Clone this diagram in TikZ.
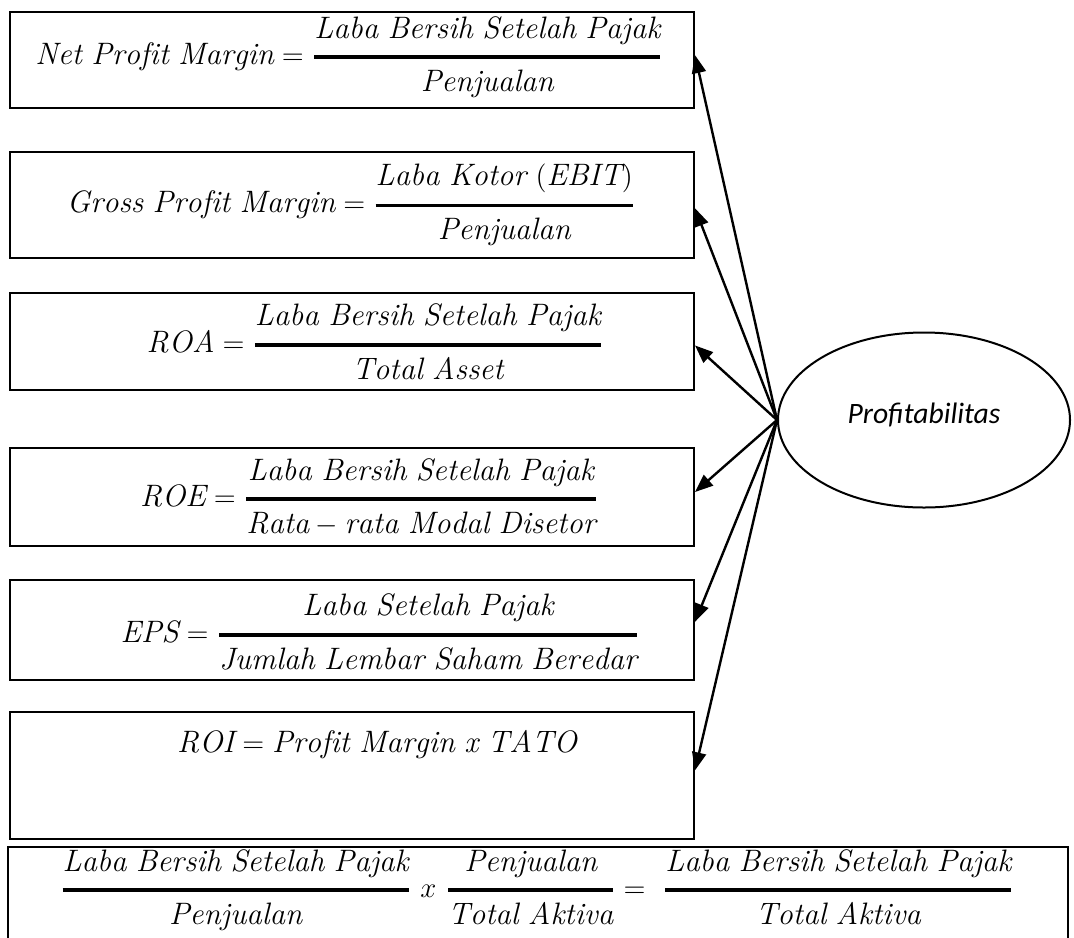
\documentclass[tikz,border=0pt]{standalone}
\usepackage{amsmath}
\usepackage{fontspec}
\newfontfamily\calib{Carlito}
\usetikzlibrary{arrows.meta,shapes.geometric,calc}
\newcommand{\bfr}[2]{\genfrac{}{}{1.8pt}{0}{#1}{#2}}
\begin{document}
\begin{tikzpicture}[x=0.5pt,y=-0.5pt,
  box/.style={draw, line width=1pt, rectangle, inner sep=0pt, minimum width=342pt},
  fml/.style={inner sep=0pt, font=\fontsize{15.5}{18}\selectfont},
  arr/.style={line width=1.2pt, -{Triangle[length=9pt,width=7pt]}}]
\clip (0,0) rectangle (1074,937);
\fill[white] (0,0) rectangle (1074,937);
% boxes
\node[box, minimum height=48pt] (b1) at (352,60) {};
\node[box, minimum height=53pt] (b2) at (352,205) {};
\node[box, minimum height=48.5pt] (b3) at (352,341.5) {};
\node[box, minimum height=49pt] (b4) at (352,497) {};
\node[box, minimum height=50pt] (b5) at (352,630) {};
\node[box, minimum height=63.5pt] (b6) at (352,775.5) {};
\node[box, minimum width=530pt, minimum height=60pt] (b7) at (538,907) {};
% formulas
\node[fml] (f1) at (349,57) {$\mathit{Net\ Profit\ Margin} = \bfr{\mathit{Laba\ Bersih\ Setelah\ Pajak}}{\mathit{Penjualan}}$};
\node[fml] (f2) at (351,205) {$\mathit{Gross\ Profit\ Margin} = \bfr{\mathit{Laba\ Kotor}\ (\mathit{EBIT})}{\mathit{Penjualan}}$};
\node[fml] (f3) at (375,342) {$\mathit{ROA} = \bfr{\mathit{Laba\ Bersih\ Setelah\ Pajak}}{\mathit{Total\ Asset}}$};
\node[fml] (f4) at (369,497) {$\mathit{ROE} = \bfr{\mathit{Laba\ Bersih\ Setelah\ Pajak}}{\mathit{Rata} - \mathit{rata\ Modal\ Disetor}}$};
\node[fml] (f5) at (380,632) {$\mathit{EPS} = \bfr{\mathit{Laba\ Setelah\ Pajak}}{\mathit{Jumlah\ Lembar\ Saham\ Beredar}}$};
\node[fml] (f6) at (377,745) {$\mathit{ROI} = \mathit{Profit\ Margin\ x\ TATO}$};
\node[fml] (f7) at (537,890) {$\bfr{\mathit{Laba\ Bersih\ Setelah\ Pajak}}{\mathit{Penjualan}}\ x\ \bfr{\mathit{Penjualan}}{\mathit{Total\ Aktiva}} = \ \bfr{\mathit{Laba\ Bersih\ Setelah\ Pajak}}{\mathit{Total\ Aktiva}}$};
% ellipse
\node[draw, line width=1pt, ellipse, inner sep=0pt, minimum width=146pt, minimum height=87.5pt] (el) at (924,420) {};
\node[font=\calib\itshape\fontsize{14.8}{17}\selectfont, inner sep=0pt] (t) at (924,415) {Profitabilitas};
% arrows
\draw[arr] (el.west) -- ($(b1.north east)!0.45!(b1.south east)$);
\draw[arr] (el.west) -- ($(b2.north east)!0.53!(b2.south east)$);
\draw[arr] (el.west) -- ($(b3.north east)!0.54!(b3.south east)$);
\draw[arr] (el.west) -- ($(b4.north east)!0.45!(b4.south east)$);
\draw[arr] (el.west) -- ($(b5.north east)!0.42!(b5.south east)$);
\draw[arr] (el.west) -- ($(b6.north east)!0.46!(b6.south east)$);
\end{tikzpicture}
\end{document}
